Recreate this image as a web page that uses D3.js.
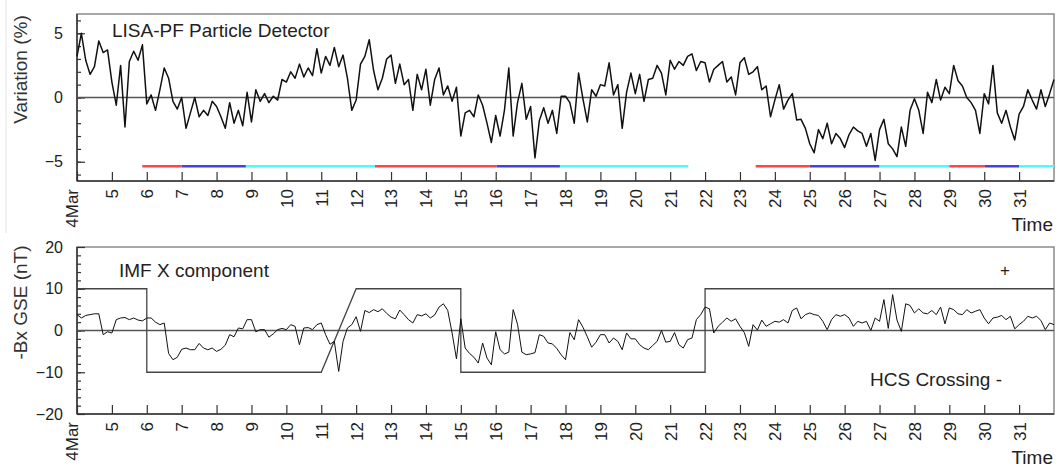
<!DOCTYPE html>
<html>
<head>
<meta charset="utf-8">
<script src="https://cdnjs.cloudflare.com/ajax/libs/d3/7.8.5/d3.min.js"></script>
<style>
  body { margin: 0; background: #fff; }
  svg { display: block; font-family: "Liberation Sans", Arial, sans-serif; }
</style>
</head>
<body>
<svg width="1058" height="470"></svg>
<script>
// time axis: days of March, samples every 3 hours starting at 4 March 00:00
var startDay = 4,
  stepDay = 0.125;

var dayTicks = [4, 5, 6, 7, 8, 9, 10, 11, 12, 13, 14, 15, 16, 17, 18, 19, 20, 21, 22, 23, 24, 25, 26, 27, 28, 29, 30, 31];

// LISA-PF particle detector count rate variation (%)
var lisaVariation = [
  3.2, 5.0, 2.9, 1.8, 2.4, 4.4, 3.5, 3.7,
  1.2, -0.6, 2.5, -2.3, 2.8, 3.6, 2.9, 4.1,
  -0.5, 0.2, -1.0, 0.6, 2.3, 1.5, -0.3, -0.9,
  0.0, -2.4, -1.2, 0.0, -1.5, -1.0, -1.4, -0.3,
  -0.7, -1.5, -2.4, -0.4, -2.0, -1.0, -2.2, 0.4,
  -1.9, 0.6, -0.3, 0.3, -0.4, 0.1, -0.2, 1.4,
  1.2, 2.0, 1.5, 2.6, 1.6, 2.3, 1.7, 3.8,
  1.9, 3.2, 2.5, 3.9, 2.4, 3.3, 1.5, -1.0,
  -0.2, 2.6, 3.2, 4.5, 2.1, 0.6, 1.5, 3.0,
  3.3, 1.1, 2.6, 1.0, 1.4, -1.0, 1.8, 0.6,
  2.2, -0.6, 1.4, 2.3, 0.2, 0.9, -0.3, 0.8,
  -3.0, -1.2, -1.0, -1.5, 0.2, -0.6, -2.0, -3.5,
  -1.4, -3.0, -1.0, 2.3, -3.0, -0.4, 1.1, -1.7,
  -0.7, -4.7, -1.8, -0.8, -2.0, -1.0, -2.8, 0.1,
  0.1, -0.4, -2.0, 1.9, -0.1, -1.9, 0.6, 0.1,
  1.0, 0.9, 2.7, 0.2, 1.0, -2.4, 0.4, 1.9,
  0.3, 1.8, -0.3, 1.4, 1.5, 2.5, 1.9, 0.2,
  2.9, 2.2, 2.8, 2.5, 3.2, 3.4, 2.1, 2.8,
  2.7, 1.2, 2.2, 2.5, 2.8, 1.2, 1.6, 0.2,
  2.7, 3.1, 1.8, 2.0, 2.4, 0.6, 0.9, -1.5,
  -0.2, 1.0, -0.9, -0.2, 0.3, -1.75, -1.7, -2.4,
  -3.6, -4.3, -2.5, -3.2, -2.0, -3.6, -2.8, -3.2,
  -3.9, -2.9, -2.3, -2.6, -2.8, -3.8, -2.8, -4.9,
  -2.5, -1.7, -3.6, -4.0, -4.6, -2.3, -3.8, -1.0,
  -0.1, -1.0, -2.8, 0.4, -0.4, 1.4, -0.2, 0.8,
  0.3, 2.5, 1.3, 0.9, 0.0, -0.4, -1.0, -2.8,
  0.3, -0.5, 2.5, -1.2, -2.0, -1.0, -2.3, -3.3,
  -1.3, -0.7, 0.6, -0.2, -0.9, 0.6, -0.7, 0.3,
  1.4
];

// IMF -Bx GSE (nT)
var imfBx = [
  3.8, 3.0, 3.6, 3.8, 4.0, 4.0, -1.0, -0.3,
  -0.6, 2.6, 3.0, 3.1, 2.6, 3.0, 2.5, 2.3,
  3.0, 3.0, 2.0, 1.4, 1.8, -5.5, -7.0, -6.4,
  -4.5, -4.2, -4.6, -4.6, -3.1, -4.2, -4.6, -4.2,
  -5.0, -4.5, -3.5, -1.0, -1.5, 0.6, 0.4, 2.6,
  2.6, -0.3, 0.2, 0.2, -1.6, -0.8, 0.2, 0.5,
  0.2, 1.4, 1.0, -3.4, 0.6, 0.7, 0.2, 1.4,
  1.8, -1.0, -3.3, -2.6, -9.8, -2.6, 0.6, 1.4,
  3.3, -0.2, 4.8, 4.3, 5.0, 4.5, 5.2, 4.1,
  3.2, 2.8, 4.9, 3.8, 2.6, 1.8, 3.8, 3.5,
  4.0, 3.0, 3.7, 5.6, 6.4, 4.8, -0.6, -6.8,
  2.8, -4.2, -5.5, -6.4, -7.8, -3.0, -6.6, -8.2,
  -0.3, -4.6, -5.6, -5.2, 5.0, 1.5, -5.2, -5.8,
  -5.6, -5.3, -1.0, -1.4, -3.0, -3.2, -4.3, -5.8,
  -7.0, -0.5, -2.2, 2.6, 0.8, -1.5, -4.0, -2.8,
  -1.0, -1.0, -3.0, -1.8, -2.6, -4.6, -0.6, -2.0,
  -2.0, -3.4, -4.2, -4.6, -3.6, -2.6, 0.0, -2.8,
  -2.6, -0.5, -3.4, -4.2, -2.2, -1.8, 2.6, 3.8,
  5.6, 5.2, -0.6, 1.0, 2.0, 3.0, 2.2, 2.8,
  1.0, -0.5, -3.8, 1.4, 0.1, 2.5, 1.0, 1.6,
  2.2, 2.0, 2.6, 1.8, 4.8, 5.4, 2.8, 3.8,
  4.2, 3.8, 3.6, 2.2, 0.2, 2.6, 3.8, 3.4,
  3.8, 3.0, 1.0, 2.2, 1.8, 2.2, 0.0, 3.0,
  2.2, 7.4, 0.5, 8.6, 2.5, -0.2, 6.4, 6.0,
  4.2, 5.2, 4.2, 4.0, 4.8, 3.8, 5.6, 1.6,
  5.4, 5.0, 4.0, 3.8, 5.0, 4.2, 4.6, 5.0,
  3.0, 1.6, 3.0, 3.2, 3.6, 2.6, 3.4, 0.4,
  1.4, 2.2, 3.4, 3.0, 3.4, 2.4, 0.2, 1.8,
  1.4
];

// HCS sector polarity (+10 / -10), corner points
var hcsDays = [4, 6, 6, 11, 12, 15, 15, 22, 22, 32];
var hcsLevel = [10, 10, -10, -10, 10, 10, -10, -10, 10, 10];

// coloured intervals under the particle detector curve
var bandStart = [5.87, 7.0, 8.84, 12.54, 16.03, 17.84, 23.45, 25.0, 27.0, 29.0, 30.02, 31.0];
var bandEnd = [7.0, 8.84, 12.54, 16.03, 17.84, 21.52, 25.0, 27.0, 29.0, 30.02, 31.0, 32.0];
var bandKind = ["red", "blue", "cyan", "red", "blue", "cyan", "red", "blue", "cyan", "red", "blue", "cyan"];

var svg = d3.select("svg");

var left = 77, right = 1054;

var x = d3.scaleLinear().domain([4, 32]).range([left, right]);

var bandColor = d3.scaleOrdinal()
  .domain(["red", "blue", "cyan"])
  .range(["#ff4545", "#4242e6", "#45ffff"]);

// faint edge of the original figure
svg.append("line")
  .attr("x1", 6).attr("x2", 6)
  .attr("y1", 0).attr("y2", 233)
  .style("stroke", "#e2e2e2")
  .style("stroke-width", 1);

function series(values) {
  return values.map(function(v, i) {
    return { day: startDay + i * stepDay, value: v };
  });
}

function drawPanel(top, bottom, domain, major, minor, yLabel) {
  var y = d3.scaleLinear().domain(domain).range([bottom, top]);
  var g = svg.append("g");

  g.append("rect")
    .attr("x", left).attr("y", top)
    .attr("width", right - left).attr("height", bottom - top)
    .style("fill", "none")
    .style("stroke", "#8a8a8a")
    .style("stroke-width", 1.5);

  // minor y ticks
  g.append("g")
    .attr("transform", "translate(" + left + ",0)")
    .call(d3.axisLeft(y).tickValues(minor).tickSizeInner(-4).tickSizeOuter(0).tickFormat(""))
    .call(function(a) { a.select(".domain").remove(); })
    .selectAll("line").style("stroke", "#333").style("stroke-width", 1.2);

  // major y ticks with labels
  var ya = g.append("g")
    .attr("transform", "translate(" + left + ",0)")
    .call(d3.axisLeft(y).tickValues(major).tickSizeInner(-8).tickSizeOuter(0).tickPadding(14));
  ya.select(".domain").remove();
  ya.selectAll("line").style("stroke", "#333").style("stroke-width", 1.2);
  ya.selectAll("text")
    .style("font-size", "16px")
    .style("fill", "#222")
    .attr("font-family", null);

  // x axis, ticks pointing inwards, rotated labels
  var xa = g.append("g")
    .attr("transform", "translate(0," + bottom + ")")
    .call(d3.axisBottom(x).tickValues(dayTicks).tickSizeInner(-9).tickSizeOuter(0)
      .tickFormat(function(d) { return d === 4 ? "4Mar" : d; }));
  xa.select(".domain").remove();
  xa.selectAll("line").style("stroke", "#333").style("stroke-width", 1.2);
  xa.selectAll("text")
    .attr("transform", "rotate(-90)")
    .attr("x", -8)
    .attr("y", 0)
    .attr("dy", function(d) { return d === 4 ? "0em" : "0.35em"; })
    .attr("font-family", null)
    .style("text-anchor", "end")
    .style("font-size", "17px")
    .style("fill", "#222");

  // dark left and bottom axis lines
  g.append("line")
    .attr("x1", left).attr("x2", left).attr("y1", top).attr("y2", bottom)
    .style("stroke", "#333").style("stroke-width", 1.5);
  g.append("line")
    .attr("x1", left).attr("x2", right).attr("y1", bottom).attr("y2", bottom)
    .style("stroke", "#333").style("stroke-width", 1.5);

  // zero line
  g.append("line")
    .attr("x1", left).attr("x2", right)
    .attr("y1", y(0)).attr("y2", y(0))
    .style("stroke", "#555")
    .style("stroke-width", 1.3);

  g.append("text")
    .attr("transform", "translate(27," + ((top + bottom) / 2 - 28) + ") rotate(-90)")
    .style("text-anchor", "middle")
    .style("font-size", "19px")
    .style("fill", "#333")
    .text(yLabel);

  g.append("text")
    .attr("x", 1053).attr("y", bottom + 50)
    .style("text-anchor", "end")
    .style("font-size", "19px")
    .style("fill", "#222")
    .text("Time");

  return { g: g, y: y };
}

// ---- top panel: LISA-PF particle detector ----
var p1 = drawPanel(14, 181, [-6.5, 6.5], [-5, 0, 5], d3.range(-6, 7, 1), "Variation (%)");

p1.g.selectAll(".band")
  .data(bandStart)
  .enter().append("line")
  .attr("class", "band")
  .attr("x1", function(d) { return x(d); })
  .attr("x2", function(d, i) { return x(bandEnd[i]); })
  .attr("y1", p1.y(-5.35))
  .attr("y2", p1.y(-5.35))
  .style("stroke", function(d, i) { return bandColor(bandKind[i]); })
  .style("stroke-width", 2.5);

var line1 = d3.line()
  .x(function(d) { return x(d.day); })
  .y(function(d) { return p1.y(d.value); });

p1.g.append("path")
  .datum(series(lisaVariation))
  .attr("d", line1)
  .style("fill", "none")
  .style("stroke", "#111")
  .style("stroke-width", 1.5)
  .style("stroke-linejoin", "round");

p1.g.append("text")
  .attr("x", 112).attr("y", 37)
  .style("font-size", "19px")
  .style("fill", "#222")
  .text("LISA-PF Particle Detector");

// ---- bottom panel: IMF X component ----
var p2 = drawPanel(247, 414, [-20, 20], [-20, -10, 0, 10, 20], d3.range(-18, 20, 2), "-Bx GSE (nT)");

var line2 = d3.line()
  .x(function(d) { return x(d.day); })
  .y(function(d) { return p2.y(d.value); });

p2.g.append("path")
  .datum(hcsDays.map(function(d, i) { return { day: d, value: hcsLevel[i] }; }))
  .attr("d", line2)
  .style("fill", "none")
  .style("stroke", "#444")
  .style("stroke-width", 1.3);

p2.g.append("path")
  .datum(series(imfBx))
  .attr("d", line2)
  .style("fill", "none")
  .style("stroke", "#111")
  .style("stroke-width", 1.0)
  .style("stroke-linejoin", "round");

p2.g.append("text")
  .attr("x", 119).attr("y", 277)
  .style("font-size", "19px")
  .style("fill", "#222")
  .text("IMF X component");

p2.g.append("text")
  .attr("x", 870).attr("y", 386)
  .style("font-size", "19px")
  .style("fill", "#222")
  .text("HCS Crossing -");

p2.g.append("text")
  .attr("x", 1005).attr("y", 276)
  .style("text-anchor", "middle")
  .style("font-size", "17px")
  .style("fill", "#222")
  .text("+");
</script>
</body>
</html>
